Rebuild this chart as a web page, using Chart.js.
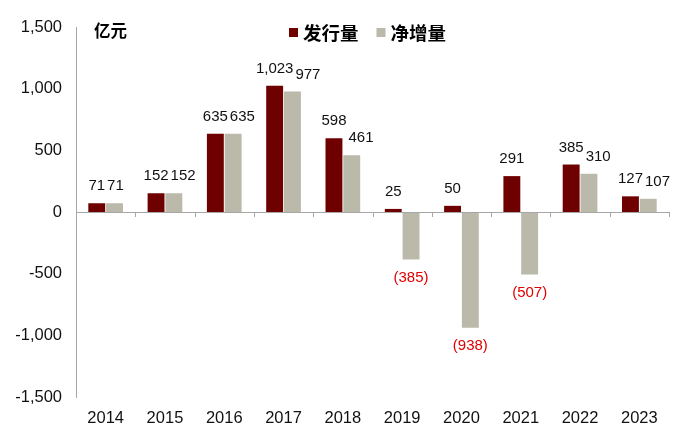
<!DOCTYPE html>
<html>
<head>
<meta charset="utf-8">
<script src="https://cdn.jsdelivr.net/npm/chart.js@4"></script>
<style>
  body { margin: 0; background: #fff; }
  #wrap { width: 700px; height: 438px; }
</style>
</head>
<body>
<div id="wrap"><canvas id="myChart" width="700" height="438"></canvas></div>
<script>
var years = ['2014', '2015', '2016', '2017', '2018', '2019', '2020', '2021', '2022', '2023'];
var issuance = [71, 152, 635, 1023, 598, 25, 50, 291, 385, 127];
var netIncrease = [71, 152, 635, 977, 461, -385, -938, -507, 310, 107];
var yTicks = [-1500, -1000, -500, 0, 500, 1000, 1500];

var FONT = '"Liberation Sans", Arial, sans-serif';
var CJK = '"Noto Sans CJK SC", sans-serif';

function fmt(v) {
  var s = Math.abs(v).toLocaleString('en-US');
  return v < 0 ? '(' + s + ')' : s;
}

//zero line with category tick marks, legend, unit text and value labels
var extras = {
  id: 'extras',
  afterDatasetsDraw: function(chart) {
    var ctx = chart.ctx;
    var x = chart.scales.x, y = chart.scales.y;
    var y0 = y.getPixelForValue(0);
    ctx.save();
    ctx.strokeStyle = '#a6a6a6';
    ctx.lineWidth = 1;
    ctx.beginPath();
    ctx.moveTo(x.left, Math.round(y0) + 0.5);
    ctx.lineTo(x.right, Math.round(y0) + 0.5);
    var step = (x.right - x.left) / years.length;
    for (var i = 1; i <= years.length; i++) {
      var px = Math.round(x.left + step * i) + 0.5;
      ctx.moveTo(px, y0);
      ctx.lineTo(px, y0 + 5);
    }
    ctx.stroke();

    //unit
    ctx.fillStyle = '#000';
    ctx.font = 'bold 16.5px ' + CJK;
    ctx.textAlign = 'left';
    ctx.textBaseline = 'middle';
    ctx.fillText('亿元', 94, 31);

    //legend
    ctx.font = 'bold 18.5px ' + CJK;
    var lx = 289;
    chart.data.datasets.forEach(function(ds) {
      ctx.fillStyle = ds.backgroundColor;
      ctx.fillRect(lx, 28, 9, 9);
      ctx.fillStyle = '#000';
      ctx.fillText(ds.label, lx + 14, 33);
      lx += 14 + ctx.measureText(ds.label).width + 18;
    });

    //value labels
    ctx.font = '15px ' + FONT;
    ctx.textAlign = 'center';
    var red = chart.getDatasetMeta(0).data;
    var grey = chart.getDatasetMeta(1).data;
    var d0 = chart.data.datasets[0].data, d1 = chart.data.datasets[1].data;
    for (var j = 0; j < years.length; j++) {
      var w0 = ctx.measureText(fmt(d0[j])).width;
      ctx.fillStyle = '#111';
      ctx.fillText(fmt(d0[j]), red[j].x, red[j].y - 17);
      var t = fmt(d1[j]);
      if (d1[j] < 0) {
        ctx.fillStyle = '#e00000';
        ctx.fillText(t, grey[j].x, grey[j].y + 18);
      } else {
        var w1 = ctx.measureText(t).width;
        var gx = Math.max(grey[j].x, red[j].x + w0 / 2 + 2 + w1 / 2);
        ctx.fillStyle = '#111';
        ctx.fillText(t, gx, grey[j].y - 17);
      }
    }
    ctx.restore();
  }
};

var ctx = document.getElementById('myChart').getContext('2d');
var myChart = new Chart(ctx, {
  type: 'bar',
  data: {
    labels: years,
    datasets: [{
      label: '发行量',
      data: issuance,
      backgroundColor: '#6e0000',
      categoryPercentage: 0.6,
      barPercentage: 0.95
    }, {
      label: '净增量',
      data: netIncrease,
      backgroundColor: '#bab9aa',
      categoryPercentage: 0.6,
      barPercentage: 0.95
    }]
  },
  options: {
    responsive: false,
    animation: false,
    layout: { padding: { top: 27, right: 31, bottom: 0, left: 0 } },
    plugins: {
      tooltip: { enabled: false },
      legend: { display: false }
    },
    scales: {
      x: {
        grid: { display: false, drawTicks: false },
        border: { display: false },
        ticks: { color: '#111', font: { family: FONT, size: 16.5 }, padding: 12 },
        afterFit: function(s) { s.height = 41; }
      },
      y: {
        min: -1500,
        max: 1500,
        afterBuildTicks: function(s) { s.ticks = yTicks.map(function(v) { return { value: v }; }); },
        grid: { display: false, drawTicks: false },
        border: { display: true, color: '#a6a6a6' },
        ticks: {
          color: '#111',
          font: { family: FONT, size: 16.5 },
          padding: 14,
          callback: function(v) { return v.toLocaleString('en-US'); }
        },
        afterFit: function(s) { s.width = 76; }
      }
    }
  },
  plugins: [extras]
});
</script>
</body>
</html>
